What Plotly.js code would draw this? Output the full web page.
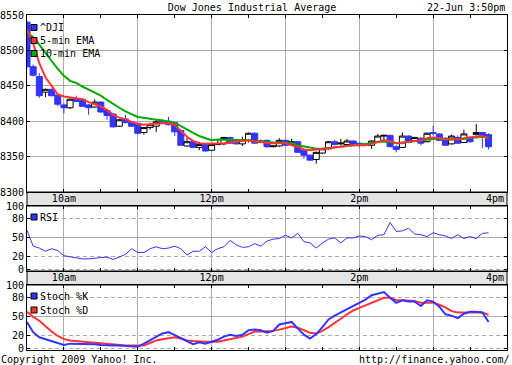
<!DOCTYPE html>
<html><head><meta charset="utf-8">
<script src="https://cdn.plot.ly/plotly-3.0.1.min.js"></script>
<style>html,body{margin:0;padding:0;background:#fff}#chart{width:512px;height:365px}</style>
</head><body><div id="chart"></div>
<script>
const day = '2009-06-22';
const times = ['09:30','09:35','09:40','09:45','09:50','09:55','10:00','10:05','10:10','10:15','10:20','10:25',
 '10:30','10:35','10:40','10:45','10:50','10:55','11:00','11:05','11:10','11:15','11:20','11:25',
 '11:30','11:35','11:40','11:45','11:50','11:55','12:00','12:05','12:10','12:15','12:20','12:25',
 '12:30','12:35','12:40','12:45','12:50','12:55','13:00','13:05','13:10','13:15','13:20','13:25',
 '13:30','13:35','13:40','13:45','13:50','13:55','14:00','14:05','14:10','14:15','14:20','14:25',
 '14:30','14:35','14:40','14:45','14:50','14:55','15:00','15:05','15:10','15:15','15:20','15:25',
 '15:30','15:35','15:40','15:45'];
const openV  = [8540,8477,8463,8441,8445,8437,8423,8419,8431,8431,8423,8420,8427,8415,8410,8393,8403,8399,8397,8384,8391,8393,8400,8400,8398,8387,8365,8371,8363,8368,8359,8367,8368,8377,8374,8368,8373,8383,8370,8373,8364,8365,8373,8367,8371,8359,8352,8346,8355,8361,8371,8368,8367,8372,8369,8368,8366,8371,8379,8380,8364,8363,8379,8372,8376,8371,8384,8382,8376,8368,8377,8370,8376,8381,8384,8381];
const highV  = [8541,8480,8468,8446,8446,8438,8425,8432,8436,8432,8424,8431,8428,8416,8412,8403,8409,8400,8398,8392,8398,8401,8403,8406,8399,8388,8377,8372,8371,8369,8368,8374,8378,8378,8375,8378,8384,8384,8374,8374,8366,8376,8374,8375,8372,8360,8353,8357,8362,8372,8374,8375,8375,8373,8370,8369,8373,8382,8381,8381,8366,8384,8380,8378,8377,8384,8393,8383,8377,8381,8380,8388,8377,8396,8385,8383];
const lowV   = [8475,8463,8433,8434,8435,8421,8411,8417,8427,8420,8409,8419,8412,8402,8391,8392,8397,8392,8382,8381,8388,8385,8397,8394,8379,8365,8364,8362,8359,8357,8358,8366,8366,8368,8367,8365,8370,8368,8369,8362,8363,8364,8365,8366,8355,8347,8344,8340,8354,8360,8366,8366,8366,8365,8363,8365,8361,8370,8371,8363,8356,8362,8369,8371,8366,8370,8380,8372,8365,8367,8368,8369,8370,8380,8362,8360];
const closeV = [8477,8465,8436,8445,8436,8424,8419,8431,8428,8421,8419,8427,8413,8408,8392,8402,8398,8393,8383,8391,8395,8399,8399,8395,8385,8366,8371,8363,8367,8358,8367,8368,8377,8369,8368,8374,8383,8369,8372,8364,8365,8373,8366,8371,8356,8352,8345,8356,8361,8371,8367,8369,8372,8366,8366,8366,8372,8379,8380,8364,8360,8379,8370,8377,8369,8383,8383,8373,8366,8379,8369,8382,8371,8384,8378,8364];
const ema5   = [8529,8510,8482,8462,8450,8438,8435,8434,8433,8431,8427,8424,8421,8416,8409,8405,8403,8399,8396,8395,8396,8396,8397,8397,8395,8386,8378,8372,8369,8368,8368,8368,8369,8370,8371,8371,8373,8371,8371,8369,8369,8369,8369,8366,8364,8360,8359,8360,8361,8363,8364,8364,8365,8366,8366,8366,8368,8371,8373,8372,8369,8370,8371,8373,8373,8376,8377,8376,8374,8374,8374,8376,8377,8378,8379,8376];
const ema10  = [8525,8519,8508,8496,8485,8474,8464,8457,8454,8449,8445,8441,8436,8430,8424,8419,8414,8410,8406,8405,8403,8402,8401,8400,8398,8393,8388,8383,8379,8376,8373,8374,8374,8374,8373,8373,8373,8372,8371,8371,8370,8370,8369,8369,8366,8364,8362,8361,8361,8362,8363,8364,8365,8366,8366,8367,8369,8371,8371,8371,8369,8369,8371,8372,8373,8375,8376,8376,8374,8375,8375,8375,8377,8377,8378,8377];
const rsi    = [62,37,34,29,33,30,22,20,18,17,17,18,20,20,16,20,24,33,27,27,33,36,33,34,37,33,23,29,29,36,27,33,36,46,39,35,36,41,37,45,48,49,54,50,57,44,42,34,42,48,50,42,50,50,53,52,47,54,55,74,60,61,65,56,55,52,58,55,53,49,55,49,52,49,57,58];
const stochK = [42,26,18,15,12,8,6,8,8,8,8,7,6,5,5,5,4,4,3,8,13,19,24,26,21,16,11,7,10,8,11,14,19,22,20,22,29,30,29,25,28,38,40,42,32,22,16,23,34,46,52,57,63,68,73,77,84,87,89,80,72,76,74,74,67,76,74,66,54,52,48,55,58,58,57,42];
const stochD = [58,50,44,35,27,20,15,13,12,11,10,9,8,7,6,6,5,5,5,5,9,13,15,17,18,16,13,12,11,11,11,11,13,15,17,19,23,27,27,27,28,30,32,35,33,29,25,24,28,34,40,47,54,60,64,68,72,76,80,80,76,76,76,75,72,72,72,69,65,59,57,57,57,57,57,53];
const priceTicks = [8300,8350,8400,8450,8500,8550];
const oscTicks = [0,20,50,80,100];
const hourTicks = ['10:00','11:00','12:00','13:00','14:00','15:00','16:00'];
const hourLabels = ['10am','','12pm','','2pm','',''];

const X = times.map(t => day + ' ' + t);
const hv = hourTicks.map(t => day + ' ' + t);
const xr = [day + ' 09:30', day + ' 16:00'];

const W = 512, H = 365, ML = 27, MR = 5, MT = 15, MB = 15;
const pw = W - ML - MR, ph = H - MT - MB;
const px = x => (x - ML) / pw;
const py = y => (H - MB - y) / ph;

const FONT = 'DejaVu Sans Mono';
const f10 = {family: FONT, size: 10, color: '#000'};
const BLUE = '#3333ff', RED = '#ff3333', GREEN = '#00aa00', GRID = '#ababab';

const traces = [
  {type: 'candlestick', x: X, open: openV, high: highV, low: lowV, close: closeV,
   xaxis: 'x', yaxis: 'y', showlegend: false, hoverinfo: 'skip', whiskerwidth: 0,
   increasing: {line: {color: '#000', width: 1}, fillcolor: '#fff'},
   decreasing: {line: {color: BLUE, width: 1}, fillcolor: BLUE}},
  {type: 'scatter', mode: 'lines', x: X, y: ema10, xaxis: 'x', yaxis: 'y', line: {color: GREEN, width: 2}, showlegend: false, hoverinfo: 'skip'},
  {type: 'scatter', mode: 'lines', x: X, y: ema5, xaxis: 'x', yaxis: 'y', line: {color: RED, width: 2}, showlegend: false, hoverinfo: 'skip'},
  {type: 'scatter', mode: 'lines', x: X, y: rsi, xaxis: 'x2', yaxis: 'y2', line: {color: BLUE, width: 1}, showlegend: false, hoverinfo: 'skip'},
  {type: 'scatter', mode: 'lines', x: X, y: stochD, xaxis: 'x3', yaxis: 'y3', line: {color: RED, width: 2}, showlegend: false, hoverinfo: 'skip'},
  {type: 'scatter', mode: 'lines', x: X, y: stochK, xaxis: 'x3', yaxis: 'y3', line: {color: BLUE, width: 2}, showlegend: false, hoverinfo: 'skip'}
];

function xax(anchor, labels) {
  return {type: 'date', range: xr, anchor: anchor, tickmode: 'array', tickvals: hv, ticktext: hourLabels,
    showticklabels: labels, ticks: 'inside', ticklen: 3, tickcolor: '#000', mirror: 'allticks',
    showline: true, linecolor: '#000', linewidth: 1, showgrid: true, gridcolor: GRID, gridwidth: 1,
    zeroline: false, tickfont: f10, fixedrange: true, ticklabelstandoff: -3,
    minor: {tick0: day + ' 09:30', dtick: 1800000, ticks: 'inside', ticklen: 3, tickcolor: '#000', showgrid: false},
    rangeslider: {visible: false}};
}
function oscY(anchor, dom) {
  return {domain: dom, anchor: anchor, range: [-2, 100], tickmode: 'array', tickvals: oscTicks,
    ticktext: oscTicks.map(String), ticks: 'inside', ticklen: 3, tickcolor: '#000', mirror: 'allticks',
    showline: true, linecolor: '#000', linewidth: 1, showgrid: true, gridcolor: GRID, griddash: '4px,3px',
    zeroline: false, tickfont: f10, fixedrange: true,
    minor: {tickmode: 'array', tickvals: [50], showgrid: true, gridcolor: GRID, griddash: 'solid', ticks: ''}};
}

const sq = (x0, y0, c) => ({type: 'rect', xref: 'paper', yref: 'paper', x0: px(x0), x1: px(x0 + 6), y0: py(y0 + 6), y1: py(y0), fillcolor: c, line: {color: '#000', width: 1}});
const band = (y0, y1) => ({type: 'rect', xref: 'paper', yref: 'paper', x0: 0, x1: 1, y0: py(y1), y1: py(y0), fillcolor: '#e4e4e4', line: {color: '#000', width: 1}, layer: 'below'});
const lbl = (x, y, t, anchor) => ({xref: 'paper', yref: 'paper', x: px(x), y: py(y), text: t, showarrow: false, xanchor: anchor || 'left', yanchor: 'middle', font: f10, borderpad: 0});

const layout = {
  width: W, height: H, margin: {l: ML, r: MR, t: MT, b: MB, pad: 0},
  paper_bgcolor: '#fff', plot_bgcolor: '#fff', showlegend: false, boxgap: 0.02, boxgroupgap: 0,
  title: {text: 'Dow Jones Industrial Average', font: f10, x: 252 / W, xanchor: 'center', y: 1 - 7 / H, yanchor: 'middle', xref: 'container', yref: 'container'},
  font: f10,
  xaxis: xax('y', true),
  yaxis: {domain: [py(192), 1], anchor: 'x', range: [8300, 8550], tickmode: 'array', tickvals: priceTicks,
    ticks: 'inside', ticklen: 3, tickcolor: '#000', mirror: 'allticks', showline: true, linecolor: '#000', linewidth: 1,
    showgrid: true, gridcolor: GRID, zeroline: false, tickfont: f10, fixedrange: true},
  xaxis2: xax('y2', true),
  yaxis2: oscY('x2', [py(271), py(206)]),
  xaxis3: xax('y3', false),
  yaxis3: oscY('x3', [0, py(285)]),
  shapes: [
    band(192, 206), band(271, 285),
    sq(31, 24.5, BLUE), sq(31, 37.5, RED), sq(31, 50.5, GREEN),
    sq(31, 214, BLUE),
    sq(31, 293, BLUE), sq(31, 307, RED)
  ],
  annotations: [
    lbl(39, 27.5, '^DJI'), lbl(39, 40.5, '5-min EMA'), lbl(39, 53.5, '10-min EMA'),
    lbl(39, 217, 'RSI'),
    lbl(39, 296, 'Stoch %K'), lbl(39, 310, 'Stoch %D'),
    lbl(506, 7.5, '22-Jun 3:50pm', 'right'),
    lbl(0, 359.5, 'Copyright 2009 Yahoo! Inc.'),
    lbl(511, 359.5, 'http://finance.yahoo.com/', 'right'),
    {xref: 'x', yref: 'paper', x: day + ' 16:00', y: py(198.5), text: '4pm', showarrow: false, xanchor: 'right', yanchor: 'middle', font: f10, borderpad: 0, xshift: -2},
    {xref: 'x2', yref: 'paper', x: day + ' 16:00', y: py(277.5), text: '4pm', showarrow: false, xanchor: 'right', yanchor: 'middle', font: f10, borderpad: 0, xshift: -2}
  ]
};

Plotly.newPlot('chart', traces, layout, {staticPlot: true, displayModeBar: false});
</script></body></html>
